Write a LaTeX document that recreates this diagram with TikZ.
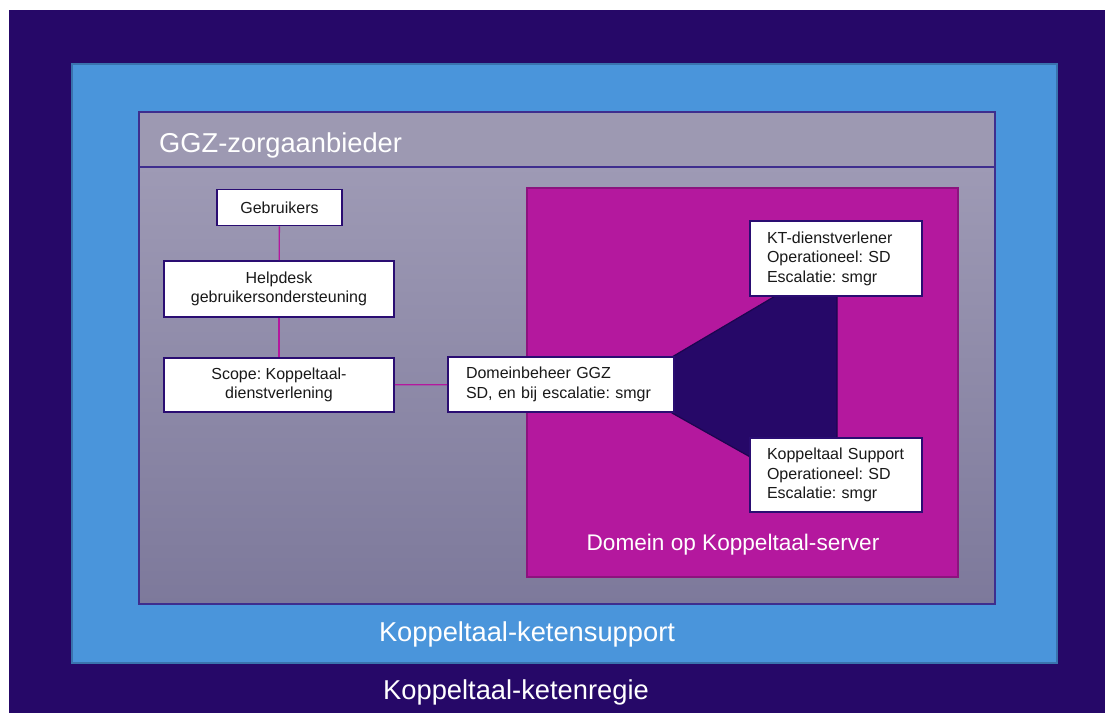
\documentclass[tikz,border=0pt]{standalone}
\usepackage{fontspec}
\setmainfont{Liberation Sans}
\frenchspacing
\definecolor{regie}{HTML}{260868}
\definecolor{blauw}{HTML}{4A95DB}
\definecolor{blauwrand}{HTML}{3A73AE}
\definecolor{grijstop}{HTML}{A29EB8}
\definecolor{grijsbot}{HTML}{7D799B}
\definecolor{grijsrand}{HTML}{3E2E8E}
\definecolor{magenta}{HTML}{B4189E}
\definecolor{magentarand}{HTML}{8C137E}
\definecolor{boxrand}{HTML}{2A0D72}
\definecolor{polyrand}{HTML}{1C0550}
\tikzset{
  infobox/.style={draw=boxrand, line width=1.8pt, fill=white, rectangle, text=black!90,
    font=\fontsize{16}{19.5}\selectfont, inner ysep=0pt},
  cbox/.style={infobox, align=center, inner xsep=0pt},
  lbox/.style={infobox, align=left},
  conn/.style={draw=magenta, line width=1.3pt},
  bigtext/.style={text=white, font=\fontsize{27.3}{30}\selectfont, inner sep=0pt},
}
\begin{document}
\begin{tikzpicture}[x=1pt,y=-1pt]
\useasboundingbox (0,0) rectangle (1105,713);
\fill[white] (0,0) rectangle (1105,713);
% outer
\fill[regie] (9,10) rectangle (1105,713);
% blue
\draw[fill=blauw, draw=blauwrand, line width=1.6pt] (72,64) rectangle (1057,663);
% gray
\shade[top color=grijstop, bottom color=grijsbot] (139,112) rectangle (995,604);
\fill[grijstop!97!black] (139,112) rectangle (995,167);
\draw[grijsrand, line width=1.2pt] (139,112) rectangle (995,604);
\draw[grijsrand, line width=1.2pt] (139,167) -- (995,167);
% magenta
\draw[fill=magenta, draw=magentarand, line width=1.6pt] (527,188) rectangle (958,577);
% dark polygon
\draw[fill=regie, draw=polyrand, line width=1.2pt]
  (672,357) -- (777,295) -- (837,295) -- (837,439) -- (752,439) -- (752,458) -- (672,413) -- cycle;
% texts
\node[bigtext, anchor=west] (ggz) at (159,145) {GGZ-zorgaanbieder};
\node[bigtext] (support) at (527,634) {Koppeltaal-ketensupport};
\node[bigtext] (regietxt) at (516,692) {Koppeltaal-ketenregie};
\node[text=white, font=\fontsize{22.6}{26}\selectfont, inner sep=0pt] (server) at (733,545) {Domein op Koppeltaal-server};
% boxes
\node[cbox, minimum width=125pt, minimum height=36pt] (geb) at (279.5,207.5) {Gebruikers};
\node[cbox, minimum width=230pt, minimum height=56pt] (help) at (279,289) {Helpdesk\\gebruikersondersteuning};
\node[cbox, minimum width=230pt, minimum height=54pt] (scope) at (279,385) {Scope: Koppeltaal-\\dienstverlening};
\node[lbox, inner xsep=18pt, text width=190pt, minimum height=55pt] (dom) at (561,384.5) {Domeinbeheer GGZ\\SD, en bij escalatie: smgr};
\node[lbox, inner xsep=17pt, text width=138pt, minimum height=75pt] (kt) at (836,258.5) {KT-dienstverlener\\Operationeel: SD\\Escalatie: smgr};
\node[lbox, inner xsep=17pt, text width=138pt, minimum height=74pt] (ks) at (836,475) {Koppeltaal Support\\Operationeel: SD\\Escalatie: smgr};
% connectors
\draw[conn] (geb) -- (help);
\draw[conn] (help) -- (scope);
\draw[conn] (scope) -- (dom);
\end{tikzpicture}
\end{document}
